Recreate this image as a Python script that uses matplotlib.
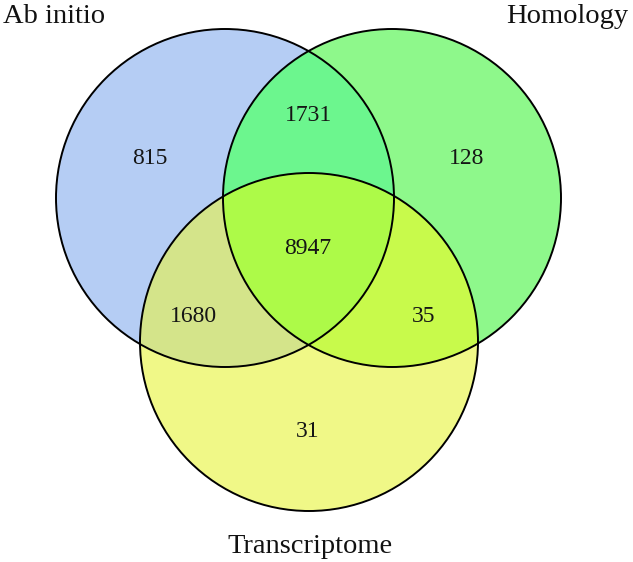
import numpy as np
import matplotlib
matplotlib.use("Agg")
import matplotlib.pyplot as plt
from matplotlib.patches import Circle

# Venn data
set_names = ["Ab initio", "Homology", "Transcriptome"]
# region keys: which sets the region belongs to (A, B, C)
region_keys = ["100", "010", "001", "110", "101", "011", "111"]
region_counts = [815, 128, 31, 1731, 1680, 35, 8947]

# layout in pixel coords (y down), figure is 633 x 562
W, H = 633, 562
centers = [(225, 198), (392, 198), (309, 342)]
radius = 169
region_colors = {
    "100": "#b5cdf4",
    "010": "#8ef98b",
    "001": "#f1f987",
    "110": "#6cf68e",
    "101": "#d4e48a",
    "011": "#c9fa4c",
    "111": "#adfa48",
}
label_pos = {
    "100": (150, 164), "010": (467, 164), "001": (308, 437),
    "110": (309, 121), "101": (193, 322), "011": (424, 322),
    "111": (308, 254),
}

fig = plt.figure(figsize=(W / 100, H / 100), dpi=100)
ax = fig.add_axes([0, 0, 1, 1])
ax.set_xlim(0, W)
ax.set_ylim(H, 0)
ax.axis("off")

# rasterise the regions at 4x resolution, outlines hide the edges
scale = 4
xs = (np.arange(W * scale) + 0.5) / scale
ys = (np.arange(H * scale) + 0.5) / scale
X, Y = np.meshgrid(xs, ys)
inside = [(X - cx) ** 2 + (Y - cy) ** 2 <= radius ** 2 for cx, cy in centers]

img = np.ones((H * scale, W * scale, 4))
img[..., 3] = 0
for key in region_keys:
    mask = np.ones_like(X, dtype=bool)
    for flag, ins in zip(key, inside):
        mask &= ins if flag == "1" else ~ins
    img[mask] = matplotlib.colors.to_rgba(region_colors[key])
ax.imshow(img, extent=(0, W, H, 0), interpolation="antialiased", zorder=1)

for cx, cy in centers:
    ax.add_patch(Circle((cx, cy), radius, fill=False, edgecolor="black", linewidth=1.4, zorder=2))

font = "Liberation Serif"
for key, n in zip(region_keys, region_counts):
    x, y = label_pos[key]
    ax.text(x, y, str(n), ha="center", va="baseline", fontsize=17, family=font, color="#151515", zorder=3)

ax.text(3, 23, set_names[0], ha="left", va="baseline", fontsize=20.5, family=font, color="#111111")
ax.text(628, 23, set_names[1], ha="right", va="baseline", fontsize=20.5, family=font, color="#111111")
ax.text(310, 553, set_names[2], ha="center", va="baseline", fontsize=20.5, family=font, color="#111111")

fig.savefig("out.png", dpi=100)
